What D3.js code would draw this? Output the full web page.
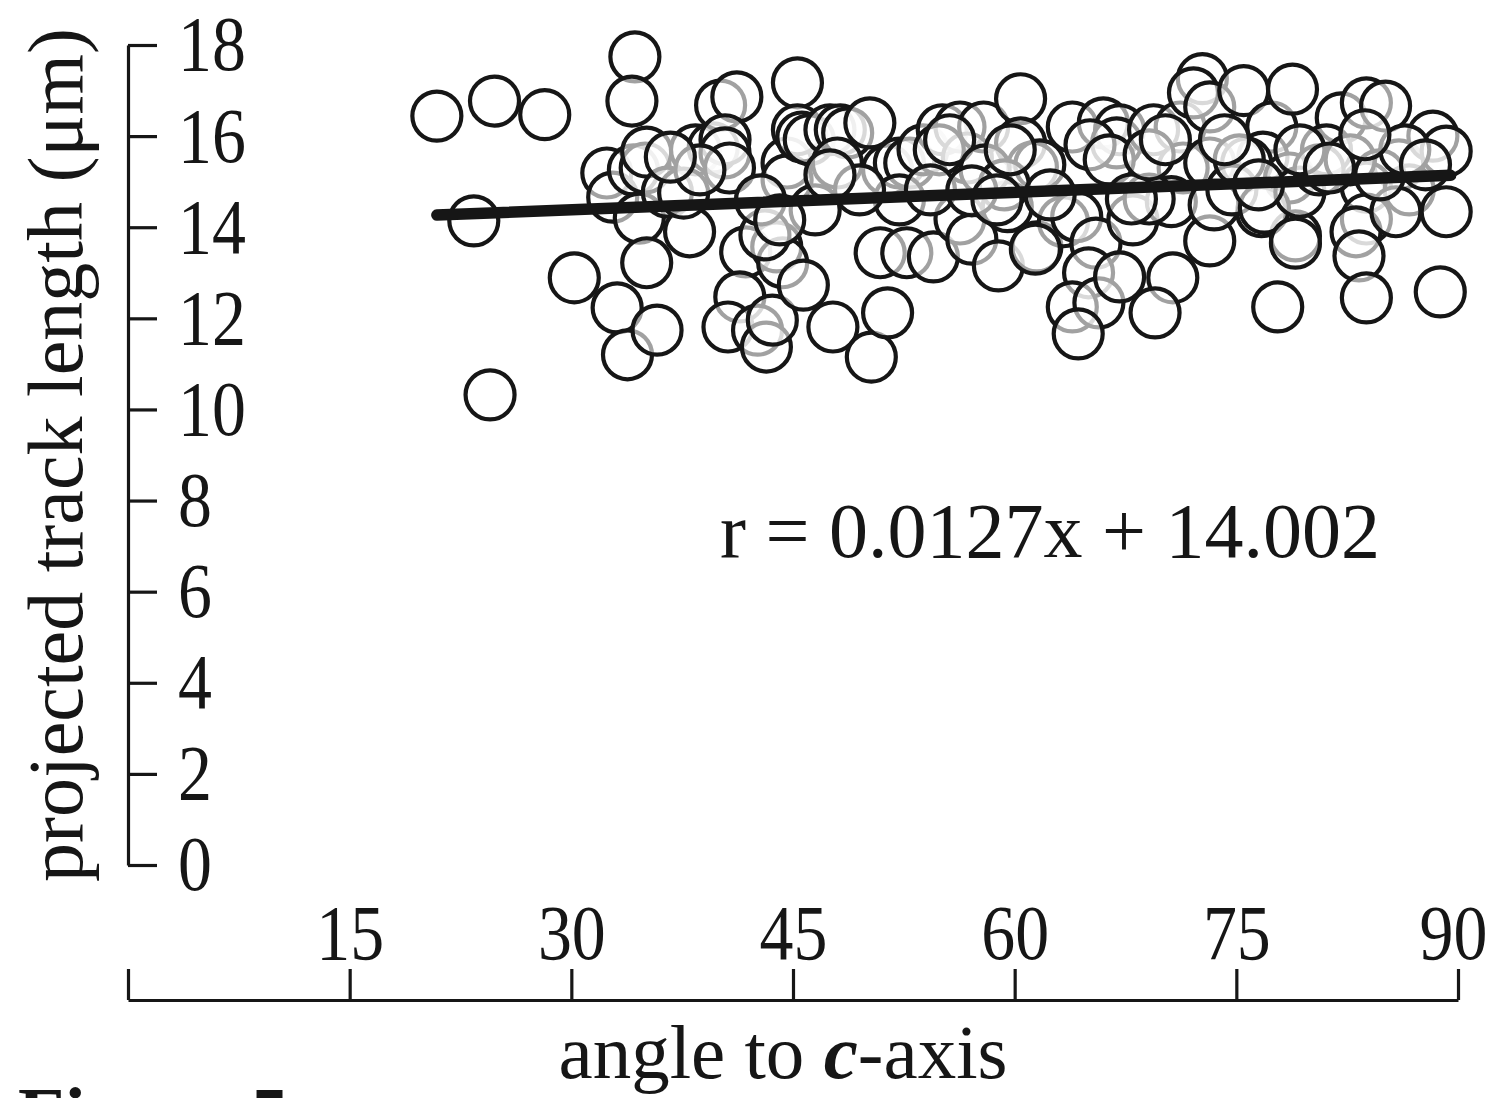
<!DOCTYPE html>
<html><head><meta charset="utf-8">
<script src="https://cdn.jsdelivr.net/npm/d3@7"></script>
<style>body{margin:0;background:#fff}svg{display:block}</style>
</head><body>
<svg id="chart" width="1490" height="1098"></svg>
<script>
const xTicks = [0, 15, 30, 45, 60, 75, 90];
const xTickLabels = ["", "15", "30", "45", "60", "75", "90"];
const yTicks = [0, 2, 4, 6, 8, 10, 12, 14, 16, 18];
const yTickLabels = ["0", "2", "4", "6", "8", "10", "12", "14", "16", "18"];

// angle to c-axis (degrees)
const angles = [
 20.9,24.8,28.2,23.4,24.5,30.2,33.1,33.8,34.3,34.1,
 32.4,32.8,34.2,35.0,35.1,34.6,35.1,35.8,36.5,38.0,
 38.4,37.6,39.6,40.1,41.2,40.4,40.4,40.7,41.8,41.4,
 40.6,42.6,43.2,43.6,43.9,44.3,43.1,44.6,44.6,45.3,
 45.3,45.6,45.7,46.5,46.1,47.5,48.2,48.7,48.0,47.7,
 50.2,50.3,51.4,50.9,52.7,54.5,51.4,52.2,52.9,53.8,
 55.1,56.3,56.8,54.9,56.3,57.1,58.9,57.9,55.6,60.4,
 60.4,61.2,59.5,61.5,61.7,63.9,66.0,67.1,66.9,65.1,
 63.3,64.2,65.5,65.0,63.9,65.7,64.3,67.1,68.0,69.4,
 71.2,72.7,72.1,71.4,70.6,69.1,70.7,69.5,73.2,73.2,
 73.2,75.5,77.4,76.8,75.7,78.6,78.8,77.8,79.0,76.7,
 82.1,83.8,85.1,81.1,86.0,83.8,86.7,83.8,88.3,89.2,
 89.2,83.1,83.3,83.8,85.8,88.8,
 73.5,74.7,76.9,79.3,80.6,82.7,84.7,86.4,87.8,83.7,
 79.3,75.2,74.2,58.0,59.3,59.7,62.4,61.4,66.4,67.9,
 69.1,70.2,52.2,54.3,49.5,47.5,42.8,44.1,38.7,36.7,
 76.5,79.0,81.3,57.1,58.8
];
// projected track length (µm)
const lengths = [
 16.44,16.77,16.47,14.14,10.32,12.89,12.23,11.20,17.74,16.77,
 15.19,14.66,15.26,15.30,15.65,14.20,13.22,11.74,14.77,13.90,
 15.70,14.75,15.74,16.68,16.86,15.92,15.63,15.30,13.46,12.47,
 11.81,11.74,11.37,11.96,13.57,13.22,13.83,15.41,15.04,17.17,
 16.14,15.98,12.73,14.38,15.92,16.14,16.14,16.07,15.41,11.81,
 16.29,11.15,12.12,13.44,13.44,13.35,15.26,15.41,15.41,15.70,
 16.14,16.20,15.52,15.70,14.18,13.74,13.15,16.20,15.92,16.82,
 15.85,15.32,14.45,13.57,15.37,16.20,16.29,16.14,15.85,15.81,
 14.12,14.23,13.65,13.00,12.25,12.34,11.66,12.91,14.16,16.14,
 16.20,17.26,16.95,15.30,14.56,14.62,12.89,12.12,13.70,16.64,
 15.41,17.00,16.20,15.54,15.41,15.08,17.03,12.25,13.81,14.34,
 16.40,16.73,16.66,15.70,15.37,14.88,14.82,14.18,16.00,15.67,
 14.34,13.90,13.37,12.45,14.34,12.58,
 14.49,14.82,14.42,14.77,15.26,15.48,15.15,15.70,15.37,16.03,
 15.70,15.48,15.92,15.26,14.93,15.70,14.71,13.52,15.48,14.62,
 15.59,15.92,14.60,14.82,14.82,15.15,14.60,14.16,15.26,15.54,
 14.93,13.65,15.30,14.80,14.60
];

const slope = 0.0127, intercept = 14.002;
const fitRange = [20.9, 89.5];
const equationText = "r = 0.0127x + 14.002";
const yTitle = "projected track length (μm)";
const figLabel = "Figure 5";

const svg = d3.select("#chart");
const FONT = "'Liberation Serif','Times New Roman',serif";
const INK = "#161616";
const SX = 0.87;

const x = d3.scaleLinear().domain([0, 90]).range([128, 1458]);
const y = d3.scaleLinear().domain([0, 18]).range([865, 45]);

// Y axis (ticks and labels to the right)
const gy = svg.append("g").attr("transform", "translate(128,0)")
  .call(d3.axisRight(y).tickValues(yTicks).tickFormat((d, i) => yTickLabels[i])
        .tickSize(29).tickPadding(22).tickSizeOuter(0));
// X axis (ticks and labels above)
const gx = svg.append("g").attr("transform", "translate(0,1000)")
  .call(d3.axisTop(x).tickValues(xTicks).tickFormat((d, i) => xTickLabels[i])
        .tickSize(31).tickPadding(12).tickSizeOuter(0));

[gx, gy].forEach(g => {
  g.select(".domain").attr("stroke", INK).attr("stroke-width", 3.2);
  g.selectAll(".tick line").attr("stroke", INK).attr("stroke-width", 3.2);
  g.selectAll(".tick text").attr("fill", INK).style("font-family", FONT).style("font-size", "78px")
    .attr("transform", `scale(${SX},1)`);
});
gx.selectAll(".tick text").attr("dy", "0em").attr("y", -41)
  .attr("dx", d => d === 90 ? -5 / SX : 0);
gy.selectAll(".tick text").attr("x", 50 / SX);

// points
const pts = angles.map((a, i) => ({a, l: lengths[i]}));
svg.append("g").selectAll("circle").data(pts).join("circle")
  .attr("cx", d => x(d.a)).attr("cy", d => y(d.l)).attr("r", 24.5)
  .attr("fill", "#fff").attr("fill-opacity", 0.6)
  .attr("stroke", INK).attr("stroke-width", 4.2);

// regression line
svg.append("line")
  .attr("x1", x(fitRange[0])).attr("y1", y(slope * fitRange[0] + intercept))
  .attr("x2", x(fitRange[1])).attr("y2", y(slope * fitRange[1] + intercept))
  .attr("stroke", INK).attr("stroke-width", 11.5).attr("stroke-linecap", "round");

// equation
svg.append("text").attr("x", 720).attr("y", 557)
  .style("font-family", FONT).style("font-size", "78px").attr("fill", INK)
  .text(equationText);

// axis titles
svg.append("text").attr("transform", "translate(82,455) rotate(-90)")
  .attr("text-anchor", "middle")
  .style("font-family", FONT).style("font-size", "78px").attr("fill", INK)
  .text(yTitle);

const xt = svg.append("text").attr("x", 783).attr("y", 1078)
  .attr("text-anchor", "middle")
  .style("font-family", FONT).style("font-size", "77px").attr("fill", INK);
xt.append("tspan").text("angle to ");
xt.append("tspan").style("font-weight", "bold").style("font-style", "italic").text("c");
xt.append("tspan").text("-axis");

svg.append("text").attr("x", 18).attr("y", 1140)
  .style("font-family", FONT).style("font-size", "76px").style("font-weight", "bold").attr("fill", INK)
  .text(figLabel);
</script>
</body></html>
